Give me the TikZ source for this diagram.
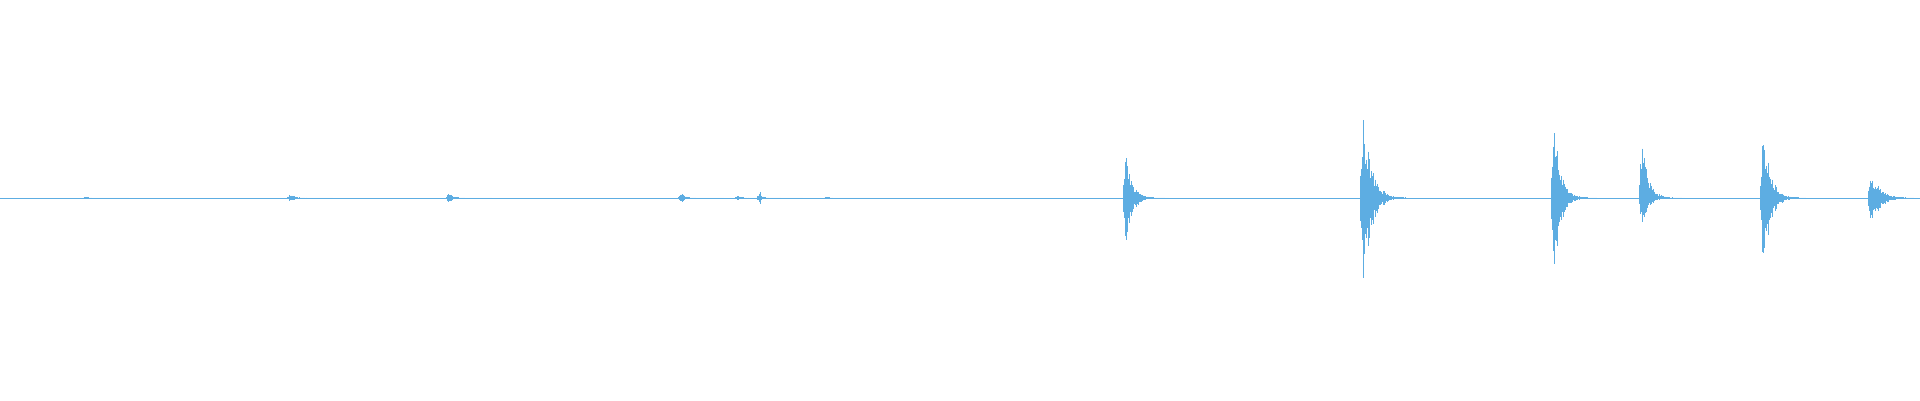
\documentclass[tikz,border=0pt]{standalone}
\usetikzlibrary{calc}
\definecolor{wave}{HTML}{5DADE2}
\tikzset{wave/.style={draw=wave,line width=0.9pt}}
% spike at x, upper amplitude, lower amplitude, decay length
\newcommand{\spike}[4]{%
  \foreach \k in {0,...,45}{
    \pgfmathsetmacro{\fa}{(\k<3 ? 0.3+0.3*\k : exp(-(\k-3)/#4))*(0.45+0.55*rnd)}
    \draw[wave] (#1-3+\k,198-#2*\fa-0.2) -- (#1-3+\k,198+#3*\fa+0.2);
  }}
\begin{document}
\begin{tikzpicture}[x=1pt,y=-1pt]
                \pgfmathsetseed{7}
                \useasboundingbox (0,0) rectangle (1920,400);
                \draw[wave] (0,198)--(1920,198);
                % small bumps
                \spike{86}{1}{1}{2}
                \spike{290}{4}{4}{4}
                \spike{449}{5}{5}{4}
                \spike{681}{5}{5}{4}
                \spike{738}{2}{2}{3}
                \spike{760}{6}{6}{2}
                \spike{827}{1}{1}{2}
                % big hits
                \spike{1126}{45}{48}{6}
                \spike{1363}{90}{93}{8}
                \spike{1554}{96}{98}{6}
                \spike{1642}{60}{29}{6}
                \spike{1763}{74}{77}{7}
                \spike{1871}{28}{32}{8}
\end{tikzpicture}
\end{document}
